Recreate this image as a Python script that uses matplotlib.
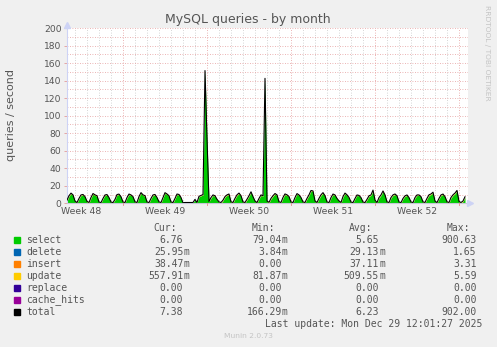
import numpy as np
import matplotlib
matplotlib.use('Agg')
import matplotlib.pyplot as plt
from matplotlib.patches import Rectangle

# time axis: days relative to Mon Dec 1 00:00, samples every 4 hours
start_day = -4 - 16 / 24.0
step = 1 / 6.0

# select queries/s, one row per day (00, 04, 08, 12, 16, 20 h)
select = [
    3, 8, 11, 9,                    # Nov 26 (from 08h)
    2, 0.3, 5, 9, 9.5, 7,           # Nov 27
    1.5, 0.3, 6, 10.5, 9, 8,        # Nov 28
    1, 0.3, 5, 9, 9.5, 6,           # Nov 29
    1, 0.3, 4, 9.5, 10, 7,          # Nov 30
    1, 0.3, 6, 10, 9, 7,            # Dec 1
    1, 0.3, 7, 11.5, 9, 8,          # Dec 2
    1, 0.3, 5, 9, 9.5, 6,           # Dec 3
    1, 0.3, 6, 11.5, 10, 8,         # Dec 4
    1, 0.3, 5, 10, 9.5, 6,          # Dec 5
    0.5, 0.8, 0.8, 0.8, 0.8, 0.8,   # Dec 6
    4, 0.5, 7.5, 8.5, 9.5, 151,     # Dec 7
    74, 1.5, 6, 9, 8, 4,            # Dec 8
    1, 0.3, 3, 7, 9, 10,            # Dec 9
    1, 0.3, 5, 9, 11, 8,            # Dec 10
    1, 0.3, 4, 8, 12.5, 7,          # Dec 11
    2, 0.3, 5, 9, 8, 142,           # Dec 12
    2, 0.5, 5, 8, 10.5, 9,          # Dec 13
    1, 0.3, 6, 10, 9, 7,            # Dec 14
    1, 0.3, 6, 10.5, 9, 6,          # Dec 15
    1, 0.3, 5, 9, 14, 13.5,         # Dec 16
    2, 0.3, 5, 9, 11.5, 8,          # Dec 17
    1, 0.3, 6, 10, 9, 5,            # Dec 18
    2, 0.3, 7, 11, 9, 6,            # Dec 19
    1, 0.3, 5, 9, 8.5, 6,           # Dec 20
    1, 0.3, 4, 8, 9, 14.5,          # Dec 21
    3, 0.3, 6, 9, 13.5, 9,          # Dec 22
    1, 0.3, 6, 9, 10, 8,            # Dec 23
    1, 0.3, 5, 8, 9, 6,             # Dec 24
    1, 0.3, 6, 9, 9, 7,             # Dec 25
    1, 0.3, 5, 9, 10, 12,           # Dec 26
    2, 0.3, 5, 9, 10, 7,            # Dec 27
    1, 0.3, 6, 9, 11, 14,           # Dec 28
    1.5, 0.3, 2, 6.8,               # Dec 29
]

# small stacked series, one value per day Nov 26 .. Dec 29
delete_day = [0.03, 0.03, 0.03, 0.02, 0.02, 0.03, 0.03, 0.03, 0.03, 0.03,
              0.01, 0.02, 0.03, 0.03, 0.03, 0.03, 0.03, 0.02, 0.02, 0.03,
              0.03, 0.03, 0.03, 0.03, 0.02, 0.02, 0.03, 0.03, 0.03, 0.02,
              0.03, 0.02, 0.03, 0.03]
insert_day = [0.04, 0.04, 0.04, 0.03, 0.03, 0.04, 0.04, 0.04, 0.04, 0.04,
              0.01, 0.03, 0.04, 0.04, 0.04, 0.04, 0.04, 0.03, 0.03, 0.04,
              0.04, 0.04, 0.04, 0.04, 0.03, 0.03, 0.04, 0.04, 0.04, 0.03,
              0.04, 0.03, 0.04, 0.04]
update_day = [0.55, 0.5, 0.6, 0.45, 0.45, 0.5, 0.6, 0.5, 0.55, 0.5,
              0.1, 0.4, 0.5, 0.55, 0.6, 0.55, 0.5, 0.6, 0.65, 0.5,
              0.55, 0.6, 0.5, 0.6, 0.45, 0.5, 0.5, 0.55, 0.45, 0.5,
              0.6, 0.5, 0.6, 0.55]

series = ['select', 'delete', 'insert', 'update', 'replace', 'cache_hits', 'total']
colors = ['#00cc00', '#0066b3', '#ff8000', '#ffcc00', '#330099', '#990099', '#000000']
cur = [6.76, 0.02595, 0.03847, 0.55791, 0.0, 0.0, 7.38]
vmin = [0.07904, 0.00384, 0.0, 0.08187, 0.0, 0.0, 0.16629]
vavg = [5.65, 0.02913, 0.03711, 0.50955, 0.0, 0.0, 6.23]
vmax = [900.63, 1.65, 3.31, 5.59, 0.0, 0.0, 902.00]

week_labels = ['Week 48', 'Week 49', 'Week 50', 'Week 51', 'Week 52']
week_mids = [-3.5, 3.5, 10.5, 17.5, 24.5]
week_bounds = [0, 7, 14, 21, 28]

W, H = 497, 347
txt = '#555555'

sel = np.array(select, dtype=float)
n = len(sel)
t = start_day + np.arange(n) * step
day_idx = np.floor(t + 5 + 1e-9).astype(int)
dele = np.array(delete_day)[day_idx]
ins = np.array(insert_day)[day_idx]
upd = np.array(update_day)[day_idx]

lay1 = sel
lay2 = lay1 + dele
lay3 = lay2 + ins
lay4 = lay3 + upd
total = lay4

fig = plt.figure(figsize=(W / 100, H / 100), dpi=100, facecolor='#f0f0f0')
ax = fig.add_axes([67 / W, (H - 203.3) / H, (468 - 67) / W, 175.3 / H])
ax.set_facecolor('white')

# grid
for d in range(-4, 29):
    if d in week_bounds:
        continue
    ax.axvline(d, color='#c8c8c8', lw=0.6, ls=(0, (1, 2)), zorder=1)
for d in week_bounds:
    ax.axvline(d, color='#e49a9a', lw=0.6, ls=(0, (1, 2)), zorder=1)
for y in range(10, 201, 10):
    ax.axhline(y, color='#e49a9a', lw=0.6, ls=(0, (1, 2)), zorder=1)

# stacked areas
ax.fill_between(t, 0, lay1, color=colors[0], lw=0, zorder=2)
ax.fill_between(t, lay1, lay2, color=colors[1], lw=0, zorder=2)
ax.fill_between(t, lay2, lay3, color=colors[2], lw=0, zorder=2)
ax.fill_between(t, lay3, lay4, color=colors[3], lw=0, zorder=2)
ax.plot(t, total, color='black', lw=0.8, zorder=3)

ax.set_xlim(start_day, 28.75)
ax.set_ylim(0, 200)
ax.set_yticks(range(0, 201, 20))
ax.set_xticks(week_mids)
ax.set_xticklabels(week_labels)
ax.tick_params(axis='x', length=0, pad=3, labelsize=6.7, labelcolor=txt)
ax.tick_params(axis='y', length=2, width=0.6, pad=2, labelsize=6.6,
               labelcolor=txt, color='#e49a9a')
for d in week_bounds:
    ax.plot([d, d], [0, -2.5], color='#e49a9a', lw=0.7, clip_on=False, zorder=4)

for s in ['top', 'right']:
    ax.spines[s].set_visible(False)
ax.spines['left'].set_color('#cdd3f5')
ax.spines['bottom'].set_color('#c8c8d8')
ax.spines['left'].set_linewidth(0.8)
ax.spines['bottom'].set_linewidth(0.8)
ax.plot([start_day], [203], marker='^', ms=4, color='#cdd3f5', clip_on=False, zorder=5)
ax.plot([28.95], [0], marker='>', ms=4, color='#cdd3f5', clip_on=False, zorder=5)


def fx(x):
    return x / W


def fy(y):
    return 1 - y / H


fig.text(fx(248), fy(20), 'MySQL queries - by month', ha='center', va='center',
         fontsize=9, color=txt)
fig.text(fx(11), fy(115), 'queries / second', rotation=90, ha='center',
         va='center', fontsize=8, color=txt)
fig.text(fx(487), fy(53), 'RRDTOOL / TOBI OETIKER', rotation=270, ha='center',
         va='center', fontsize=5.4, color='#c4c4c4')

# legend
mono = 'DejaVu Sans Mono'
lfs = 7
col_ends = [183.3, 281.7, 379.0, 476.7]
head_ends = [177.3, 275.0, 372.3, 470.0]
for name, xe in zip(['Cur:', 'Min:', 'Avg:', 'Max:'], head_ends):
    fig.text(fx(xe), fy(228.3), name, ha='right', va='center', family=mono,
             fontsize=lfs, color=txt)


def fmt(v):
    if 0 < v < 1:
        return '%.2f' % (v * 1000), 'm'
    return '%.2f' % v, ''


for i, name in enumerate(series):
    y = 239.6 + 12 * i
    fig.patches.append(Rectangle((fx(14), fy(y + 3)), 6 / W, 6 / H,
                                 transform=fig.transFigure, color=colors[i]))
    fig.text(fx(26.5), fy(y), name, ha='left', va='center', family=mono,
             fontsize=lfs, color=txt)
    for vals, xe in zip([cur, vmin, vavg, vmax], col_ends):
        num, unit = fmt(vals[i])
        fig.text(fx(xe), fy(y), num, ha='right', va='center', family=mono,
                 fontsize=lfs, color=txt)
        if unit:
            fig.text(fx(xe), fy(y), unit, ha='left', va='center', family=mono,
                     fontsize=lfs, color=txt)

fig.text(fx(482.5), fy(323.7), 'Last update: Mon Dec 29 12:01:27 2025', ha='right',
         va='center', family=mono, fontsize=lfs, color=txt)
fig.text(fx(248), fy(336), 'Munin 2.0.73', ha='center', va='center',
         fontsize=5.4, color='#c4c4c4')

fig.savefig('out.png', dpi=100, facecolor=fig.get_facecolor())
